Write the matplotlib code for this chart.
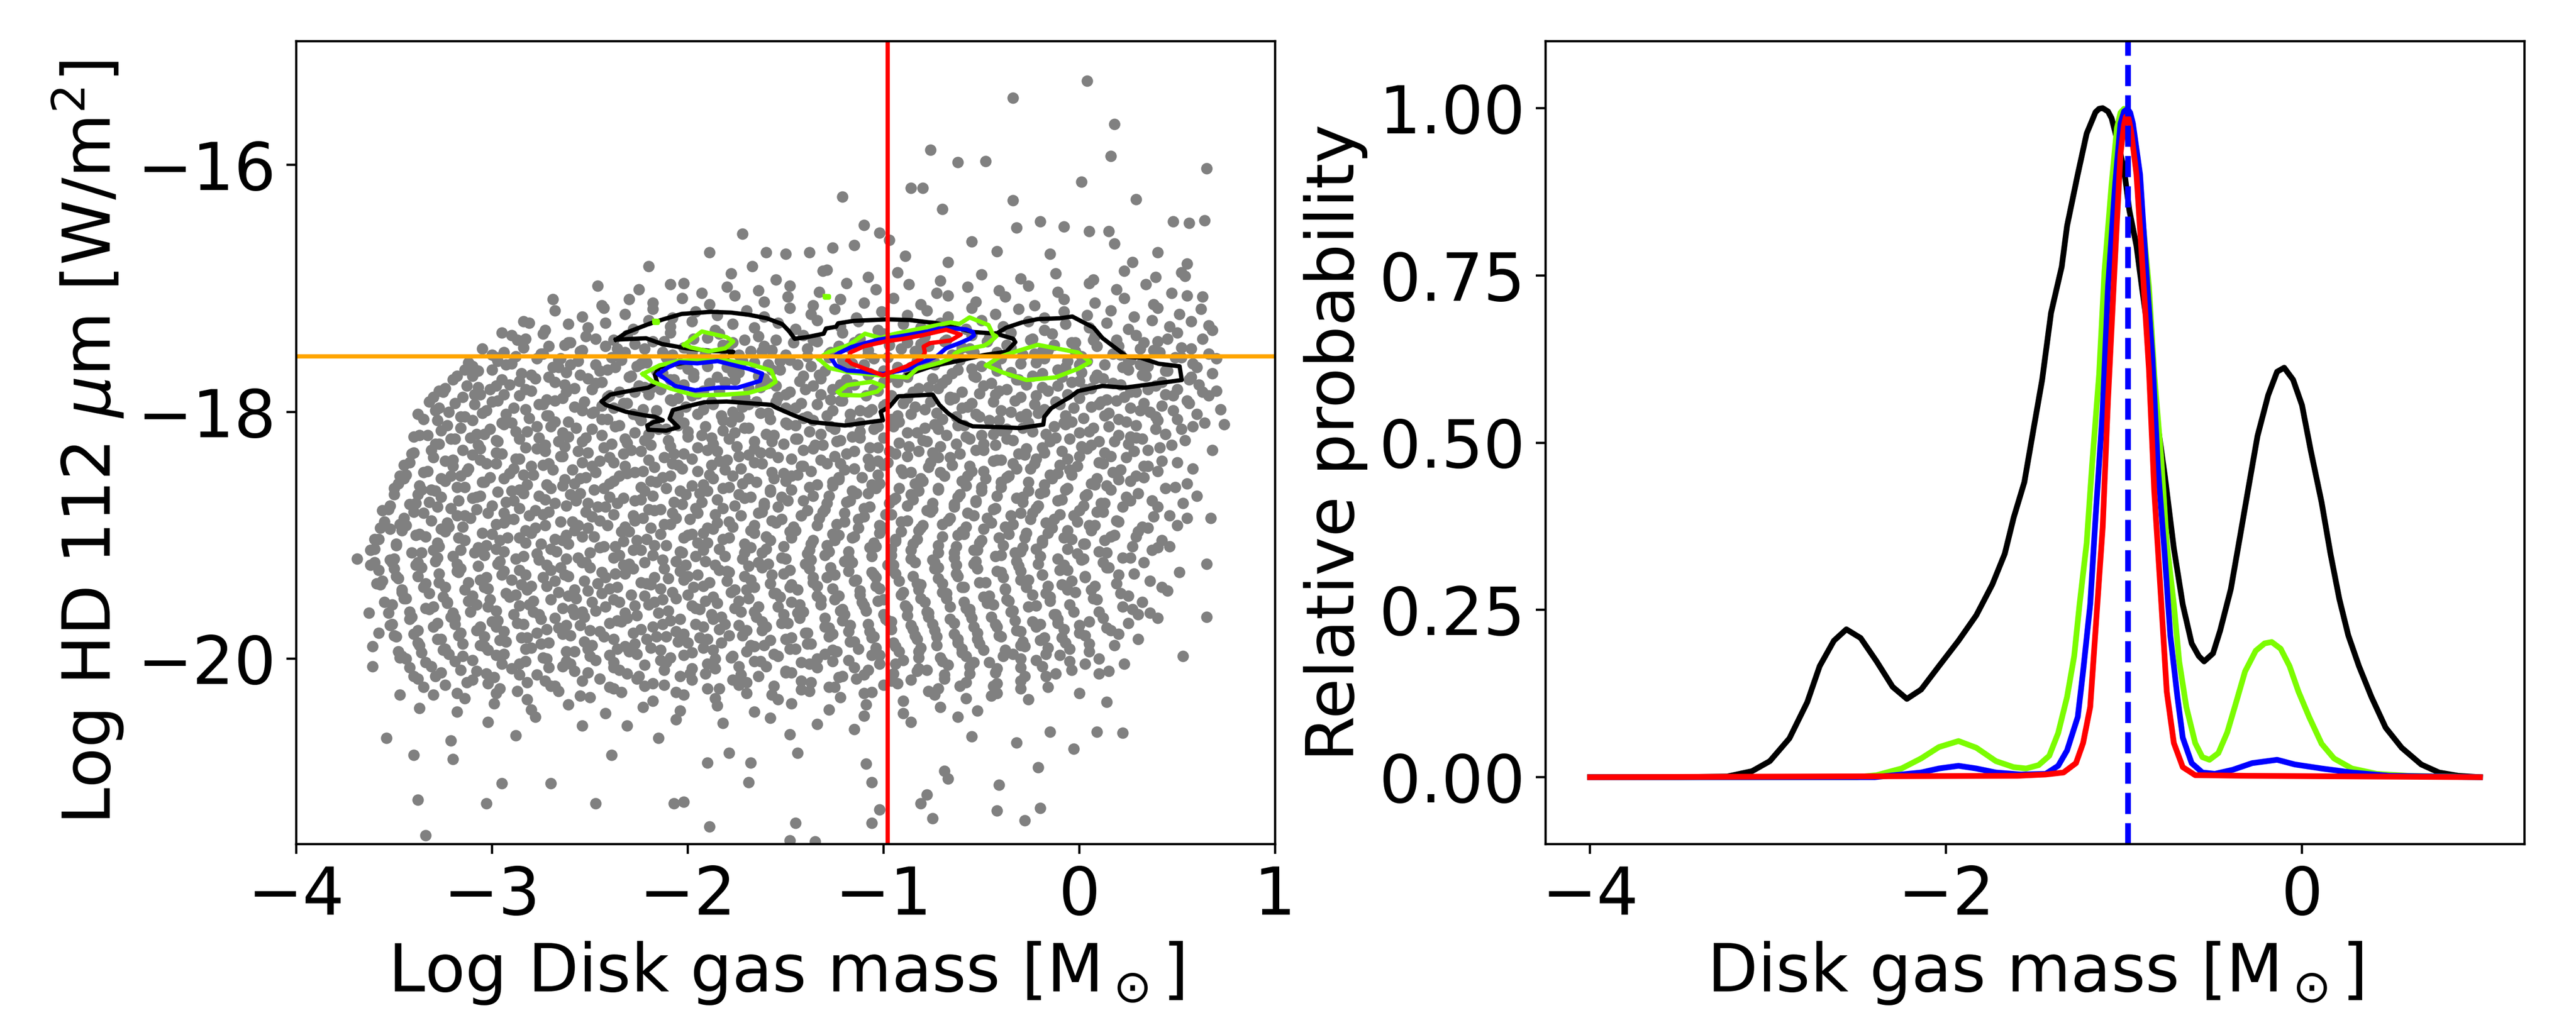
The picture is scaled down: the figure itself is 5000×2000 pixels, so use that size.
import numpy as np
import matplotlib
matplotlib.use("Agg")
import matplotlib.pyplot as plt

plt.rcParams['font.size'] = 23

# ---------------- left panel: samples ----------------
upper_pts = [
    (0.04,-15.32),(-0.34,-15.46),(0.18,-15.67),(0.16,-15.93),(0.65,-16.03),(0.01,-16.14),
    (-0.76,-15.88),(-0.62,-15.98),(-0.48,-15.97),(-0.86,-16.19),(-0.80,-16.19),(-0.34,-16.29),
    (0.29,-16.28),(-1.21,-16.26),(-0.70,-16.36),(-0.20,-16.46),(0.48,-16.46),(0.64,-16.45),
    (0.56,-16.47),(-1.02,-16.55),(-0.32,-16.51),(0.05,-16.54),(0.15,-16.54),(0.40,-16.71),
    (-0.08,-16.50),(0.18,-16.64),(0.27,-16.79),(-1.89,-16.71),(-1.72,-16.56),(-1.60,-16.71),
    (-1.50,-16.72),(-1.38,-16.71),(-1.26,-16.67),(-1.15,-16.65),(-1.10,-16.49),(-0.97,-16.61),
    (-0.89,-16.74),(-1.29,-16.85),(-1.67,-16.82),(-2.20,-16.82),(-2.02,-16.96),(-2.46,-16.98),
    (-0.55,-16.62),(-0.42,-16.70),(-0.15,-16.72),(0.55,-16.80),(-0.67,-16.79),(0.66,-17.30),
    (0.63,-17.07),(0.54,-16.90),(-2.69,-17.09),(-2.81,-17.28),(-2.90,-17.38),(-3.00,-17.54),
    (-3.14,-17.66),(-3.24,-17.81),(-3.29,-17.99),
]

cloud_top = [
    (-1.78,-16.88),(-1.55,-16.93),(-1.31,-16.86),(-1.08,-16.91),(-0.93,-16.87),(-0.71,-16.94),
    (-0.50,-16.89),(-0.30,-16.92),(-0.12,-16.88),(0.07,-16.93),(0.23,-16.86),(0.39,-16.91),(0.52,-16.87),
    (-2.25,-17.01),(-2.09,-16.97),(-1.93,-17.04),(-1.80,-16.99),(-1.64,-17.02),(-1.48,-16.98),
    (-1.33,-17.03),(-1.19,-16.96),(-1.04,-17.01),(-0.87,-16.97),(-0.73,-17.04),(-0.57,-16.99),
    (-0.41,-17.02),(-0.26,-16.98),(-0.11,-17.03),(0.05,-16.96),(0.19,-17.01),(0.34,-16.97),(0.47,-17.04),
    (-2.44,-17.14),(-2.30,-17.09),(-2.18,-17.12),(-2.03,-17.08),(-1.89,-17.13),(-1.76,-17.06),
    (-1.61,-17.11),(-1.49,-17.07),(-1.36,-17.14),(-1.22,-17.09),(-1.10,-17.12),(-0.95,-17.08),
    (-0.81,-17.13),(-0.67,-17.06),(-0.53,-17.11),(-0.38,-17.07),(-0.23,-17.14),(-0.08,-17.09),
    (0.08,-17.12),(0.23,-17.08),(0.38,-17.13),(0.55,-17.06),
    (-2.68,-17.18),(-2.54,-17.23),(-2.43,-17.16),(-2.32,-17.21),(-2.18,-17.17),(-2.08,-17.24),
    (-1.96,-17.19),(-1.85,-17.22),(-1.70,-17.18),(-1.61,-17.23),(-1.48,-17.16),(-1.37,-17.21),
    (-1.25,-17.17),(-1.14,-17.24),(-1.01,-17.19),(-0.88,-17.22),(-0.78,-17.18),(-0.67,-17.23),
    (-0.55,-17.16),(-0.43,-17.21),(-0.31,-17.17),(-0.18,-17.24),(-0.08,-17.19),(0.04,-17.22),
    (0.16,-17.18),(0.28,-17.23),(0.40,-17.16),(0.51,-17.21),(0.62,-17.17),
    (-2.84,-17.27),(-2.73,-17.34),(-2.61,-17.29),(-2.51,-17.32),(-2.42,-17.28),(-2.28,-17.33),
    (-2.20,-17.26),(-2.09,-17.31),(-1.98,-17.27),(-1.86,-17.34),(-1.77,-17.29),(-1.66,-17.32),
    (-1.54,-17.28),(-1.45,-17.33),(-1.34,-17.26),(-1.22,-17.31),(-1.13,-17.27),(-1.03,-17.34),
    (-0.90,-17.29),(-0.81,-17.32),(-0.71,-17.28),(-0.58,-17.33),(-0.50,-17.26),(-0.39,-17.31),
    (-0.26,-17.27),(-0.18,-17.34),(-0.07,-17.29),(0.05,-17.32),(0.14,-17.28),(0.25,-17.33),
    (0.37,-17.26),(0.46,-17.31),(0.57,-17.27),(0.68,-17.34),
    (-2.95,-17.36),(-2.83,-17.41),(-2.74,-17.37),(-2.61,-17.44),(-2.52,-17.39),(-2.38,-17.42),
    (-2.31,-17.38),(-2.18,-17.43),(-2.09,-17.36),(-1.97,-17.41),(-1.84,-17.37),(-1.77,-17.44),
    (-1.64,-17.39),(-1.55,-17.42),(-1.41,-17.38),(-1.34,-17.43),(-1.21,-17.36),(-1.12,-17.41),
    (-1.00,-17.37),(-0.88,-17.44),(-0.79,-17.39),(-0.68,-17.42),(-0.55,-17.38),(-0.47,-17.43),
    (-0.35,-17.36),(-0.24,-17.41),(-0.14,-17.37),(-0.04,-17.44),(0.08,-17.39),(0.19,-17.42),
    (0.29,-17.38),(0.40,-17.43),(0.50,-17.36),(0.63,-17.41),
]

cloud_mid = [
    (-3.05,-17.49),(-2.94,-17.52),(-2.84,-17.48),(-2.75,-17.53),(-2.63,-17.46),(-2.55,-17.51),
    (-2.42,-17.47),(-2.35,-17.54),(-2.22,-17.49),(-2.13,-17.52),(-2.01,-17.48),(-1.91,-17.53),
    (-1.82,-17.46),(-1.68,-17.51),(-1.61,-17.47),(-1.50,-17.54),(-1.39,-17.49),(-1.27,-17.52),
    (-1.17,-17.48),(-1.08,-17.53),(-0.97,-17.46),(-0.84,-17.51),(-0.77,-17.47),(-0.65,-17.54),
    (-0.56,-17.49),(-0.42,-17.52),(-0.35,-17.48),(-0.23,-17.53),(-0.13,-17.46),(-0.02,-17.51),
    (0.09,-17.47),(0.21,-17.54),(0.31,-17.49),(0.41,-17.52),(0.52,-17.48),(0.66,-17.53),
    (-3.10,-17.63),(-2.98,-17.56),(-2.90,-17.61),(-2.77,-17.57),(-2.66,-17.64),(-2.56,-17.59),
    (-2.47,-17.62),(-2.34,-17.58),(-2.26,-17.63),(-2.11,-17.56),(-2.04,-17.61),(-1.92,-17.57),
    (-1.80,-17.64),(-1.72,-17.59),(-1.59,-17.62),(-1.48,-17.58),(-1.37,-17.63),(-1.28,-17.56),
    (-1.16,-17.61),(-1.05,-17.57),(-0.93,-17.64),(-0.83,-17.59),(-0.74,-17.62),(-0.61,-17.58),
    (-0.50,-17.63),(-0.40,-17.56),(-0.30,-17.61),(-0.18,-17.57),(-0.07,-17.64),(0.04,-17.59),
    (0.13,-17.62),(0.25,-17.58),(0.35,-17.63),(0.49,-17.56),(0.58,-17.61),(0.70,-17.57),
    (-3.18,-17.71),(-3.07,-17.67),(-2.95,-17.74),(-2.85,-17.69),(-2.71,-17.72),(-2.62,-17.68),
    (-2.51,-17.73),(-2.41,-17.66),(-2.29,-17.71),(-2.16,-17.67),(-2.07,-17.74),(-1.97,-17.69),
    (-1.85,-17.72),(-1.74,-17.68),(-1.61,-17.73),(-1.53,-17.66),(-1.41,-17.71),(-1.30,-17.67),
    (-1.19,-17.74),(-1.07,-17.69),(-0.97,-17.72),(-0.87,-17.68),(-0.75,-17.73),(-0.62,-17.66),
    (-0.54,-17.71),(-0.42,-17.67),(-0.31,-17.74),(-0.19,-17.69),(-0.09,-17.72),(0.01,-17.68),
    (0.12,-17.73),(0.25,-17.66),(0.34,-17.71),(0.45,-17.67),(0.56,-17.74),
    (-3.25,-17.84),(-3.13,-17.79),(-3.01,-17.82),(-2.91,-17.78),(-2.80,-17.83),(-2.68,-17.76),
    (-2.58,-17.81),(-2.47,-17.77),(-2.35,-17.84),(-2.25,-17.79),(-2.14,-17.82),(-2.02,-17.78),
    (-1.92,-17.83),(-1.81,-17.76),(-1.69,-17.81),(-1.59,-17.77),(-1.48,-17.84),(-1.36,-17.79),
    (-1.26,-17.82),(-1.15,-17.78),(-1.03,-17.83),(-0.93,-17.76),(-0.82,-17.81),(-0.70,-17.77),
    (-0.60,-17.84),(-0.49,-17.79),(-0.37,-17.82),(-0.27,-17.78),(-0.16,-17.83),(-0.04,-17.76),
    (0.06,-17.81),(0.17,-17.77),(0.29,-17.84),(0.39,-17.79),(0.50,-17.82),(0.61,-17.78),(0.70,-17.83),
    (-3.30,-17.88),(-3.19,-17.93),(-3.06,-17.86),(-2.97,-17.91),(-2.86,-17.87),(-2.74,-17.94),
    (-2.64,-17.89),(-2.53,-17.92),(-2.41,-17.88),(-2.31,-17.93),(-2.20,-17.86),(-2.08,-17.91),
    (-1.98,-17.87),(-1.87,-17.94),(-1.75,-17.89),(-1.65,-17.92),(-1.54,-17.88),(-1.42,-17.93),
    (-1.32,-17.86),(-1.21,-17.91),(-1.09,-17.87),(-0.99,-17.94),(-0.88,-17.89),(-0.76,-17.92),
    (-0.66,-17.88),(-0.55,-17.93),(-0.43,-17.86),(-0.33,-17.91),(-0.22,-17.87),(-0.10,-17.94),
    (0.00,-17.89),(0.11,-17.92),(0.23,-17.88),(0.33,-17.93),(0.44,-17.86),(0.55,-17.91),(0.66,-17.87),
    (-3.27,-17.97),(-3.16,-18.04),(-3.03,-17.99),(-2.93,-18.02),(-2.83,-17.98),(-2.71,-18.03),
    (-2.58,-17.96),(-2.49,-18.01),(-2.38,-17.97),(-2.25,-18.04),(-2.16,-17.99),(-2.05,-18.02),
    (-1.92,-17.98),(-1.83,-18.03),(-1.72,-17.96),(-1.59,-18.01),(-1.50,-17.97),(-1.39,-18.04),
    (-1.26,-17.99),(-1.17,-18.02),(-1.06,-17.98),(-0.93,-18.03),(-0.84,-17.96),(-0.73,-18.01),
    (-0.60,-17.97),(-0.51,-18.04),(-0.40,-17.99),(-0.27,-18.02),(-0.18,-17.98),(-0.07,-18.03),
    (0.06,-17.96),(0.15,-18.01),(0.26,-17.97),(0.39,-18.04),(0.48,-17.99),(0.60,-18.02),(0.72,-17.98),
    (-3.35,-18.06),(-3.23,-18.11),(-3.10,-18.07),(-3.01,-18.14),(-2.90,-18.09),(-2.77,-18.12),
    (-2.68,-18.08),(-2.57,-18.13),(-2.44,-18.06),(-2.35,-18.11),(-2.24,-18.07),(-2.11,-18.14),
    (-2.02,-18.09),(-1.91,-18.12),(-1.78,-18.08),(-1.69,-18.13),(-1.58,-18.06),(-1.45,-18.11),
    (-1.36,-18.07),(-1.25,-18.14),(-1.12,-18.09),(-1.03,-18.12),(-0.92,-18.08),(-0.79,-18.13),
    (-0.70,-18.06),(-0.59,-18.11),(-0.46,-18.07),(-0.37,-18.14),(-0.26,-18.09),(-0.13,-18.12),
    (-0.04,-18.08),(0.07,-18.13),(0.20,-18.06),(0.29,-18.11),(0.40,-18.07),(0.52,-18.14),(0.64,-18.09),
    (-3.33,-18.19),(-3.21,-18.22),(-3.08,-18.18),(-2.98,-18.23),(-2.88,-18.16),(-2.76,-18.21),
    (-2.64,-18.17),(-2.54,-18.24),(-2.44,-18.19),(-2.32,-18.22),(-2.20,-18.18),(-2.10,-18.23),
    (-2.00,-18.16),(-1.88,-18.21),(-1.76,-18.17),(-1.66,-18.24),(-1.56,-18.19),(-1.44,-18.22),
    (-1.32,-18.18),(-1.22,-18.23),(-1.12,-18.16),(-1.00,-18.21),(-0.88,-18.17),(-0.78,-18.24),
    (-0.68,-18.19),(-0.56,-18.22),(-0.44,-18.18),(-0.34,-18.23),(-0.24,-18.16),(-0.12,-18.21),
    (0.00,-18.17),(0.10,-18.24),(0.20,-18.19),(0.32,-18.22),(0.44,-18.18),(0.54,-18.23),(-3.11,-18.21),
    (-3.40,-18.33),(-3.29,-18.26),(-3.15,-18.31),(-3.07,-18.27),(-2.95,-18.34),(-2.83,-18.29),
    (-2.73,-18.32),(-2.63,-18.28),(-2.51,-18.33),(-2.39,-18.26),(-2.29,-18.31),(-2.19,-18.27),
    (-2.07,-18.34),(-1.95,-18.29),(-1.85,-18.32),(-1.75,-18.28),(-1.63,-18.33),(-1.51,-18.26),
    (-1.41,-18.31),(-1.31,-18.27),(-1.19,-18.34),(-1.07,-18.29),(-0.97,-18.32),(-0.87,-18.28),
    (-0.75,-18.33),(-0.63,-18.26),(-0.53,-18.31),(-0.43,-18.27),(-0.31,-18.34),(-0.19,-18.29),
    (-0.09,-18.32),(0.01,-18.28),(0.13,-18.33),(0.25,-18.26),(0.35,-18.31),(0.47,-18.27),
    (-3.42,-18.41),(-3.30,-18.37),(-3.20,-18.44),(-3.06,-18.39),(-2.98,-18.42),(-2.86,-18.38),
    (-2.74,-18.43),(-2.64,-18.36),(-2.54,-18.41),(-2.40,-18.37),(-2.32,-18.44),(-2.20,-18.39),
    (-2.08,-18.42),(-1.98,-18.38),(-1.88,-18.43),(-1.74,-18.36),(-1.66,-18.41),(-1.54,-18.37),
    (-1.42,-18.44),(-1.32,-18.39),(-1.22,-18.42),(-1.08,-18.38),(-1.00,-18.43),(-0.88,-18.36),
    (-0.76,-18.41),(-0.66,-18.37),(-0.56,-18.44),(-0.42,-18.39),(-0.34,-18.42),(-0.22,-18.38),
    (-0.10,-18.43),(0.00,-18.36),(0.10,-18.41),(0.24,-18.37),(0.33,-18.44),
]

cloud_low = [
    (-3.45,-18.54),(-3.35,-18.49),(-3.21,-18.52),(-3.13,-18.48),(-3.01,-18.53),(-2.89,-18.46),
    (-2.79,-18.51),(-2.69,-18.47),(-2.55,-18.54),(-2.47,-18.49),(-2.35,-18.52),(-2.23,-18.48),
    (-2.13,-18.53),(-2.03,-18.46),(-1.89,-18.51),(-1.81,-18.47),(-1.69,-18.54),(-1.57,-18.49),
    (-1.47,-18.52),(-1.37,-18.48),(-1.23,-18.53),(-1.15,-18.46),(-1.03,-18.51),(-0.91,-18.47),
    (-0.81,-18.54),(-0.71,-18.49),(-0.57,-18.52),(-0.49,-18.48),(-0.37,-18.53),(-0.25,-18.46),
    (-0.15,-18.51),(-0.05,-18.47),(0.09,-18.54),(0.17,-18.49),(0.29,-18.52),(0.40,-18.48),
    (-3.48,-18.58),(-3.36,-18.63),(-3.24,-18.56),(-3.14,-18.61),(-3.04,-18.57),(-2.90,-18.64),
    (-2.82,-18.59),(-2.70,-18.62),(-2.58,-18.58),(-2.48,-18.63),(-2.38,-18.56),(-2.24,-18.61),
    (-2.16,-18.57),(-2.04,-18.64),(-1.92,-18.59),(-1.82,-18.62),(-1.72,-18.58),(-1.58,-18.63),
    (-1.50,-18.56),(-1.38,-18.61),(-1.26,-18.57),(-1.16,-18.64),(-1.06,-18.59),(-0.92,-18.62),
    (-0.84,-18.58),(-0.72,-18.63),(-0.60,-18.56),(-0.50,-18.61),(-0.40,-18.57),(-0.26,-18.64),
    (-0.18,-18.59),(-0.06,-18.62),(0.06,-18.58),(0.16,-18.63),(0.26,-18.56),(0.49,-18.61),
    (-3.50,-18.67),(-3.39,-18.74),(-3.26,-18.69),(-3.17,-18.72),(-3.06,-18.68),(-2.93,-18.73),
    (-2.84,-18.66),(-2.73,-18.71),(-2.60,-18.67),(-2.51,-18.74),(-2.40,-18.69),(-2.27,-18.72),
    (-2.18,-18.68),(-2.07,-18.73),(-1.94,-18.66),(-1.85,-18.71),(-1.74,-18.67),(-1.61,-18.74),
    (-1.52,-18.69),(-1.41,-18.72),(-1.28,-18.68),(-1.19,-18.73),(-1.08,-18.66),(-0.95,-18.71),
    (-0.86,-18.67),(-0.75,-18.74),(-0.62,-18.69),(-0.53,-18.72),(-0.42,-18.68),(-0.29,-18.73),
    (-0.20,-18.66),(-0.09,-18.71),(0.04,-18.67),(0.13,-18.74),(0.24,-18.69),(0.37,-18.72),(0.60,-18.68),
    (-3.52,-18.76),(-3.40,-18.81),(-3.28,-18.77),(-3.18,-18.84),(-3.08,-18.79),(-2.94,-18.82),
    (-2.86,-18.78),(-2.74,-18.83),(-2.62,-18.76),(-2.52,-18.81),(-2.42,-18.77),(-2.28,-18.84),
    (-2.20,-18.79),(-2.08,-18.82),(-1.96,-18.78),(-1.86,-18.83),(-1.76,-18.76),(-1.62,-18.81),
    (-1.54,-18.77),(-1.42,-18.84),(-1.30,-18.79),(-1.20,-18.82),(-1.10,-18.78),(-0.96,-18.83),
    (-0.88,-18.76),(-0.76,-18.81),(-0.64,-18.77),(-0.54,-18.84),(-0.44,-18.79),(-0.30,-18.82),
    (-0.22,-18.78),(-0.10,-18.83),(0.02,-18.76),(0.12,-18.81),(0.22,-18.77),(0.46,-18.84),
    (-3.55,-18.89),(-3.44,-18.92),(-3.31,-18.88),(-3.22,-18.93),(-3.11,-18.86),(-2.98,-18.91),
    (-2.89,-18.87),(-2.78,-18.94),(-2.65,-18.89),(-2.56,-18.92),(-2.45,-18.88),(-2.32,-18.93),
    (-2.23,-18.86),(-2.12,-18.91),(-1.99,-18.87),(-1.90,-18.94),(-1.79,-18.89),(-1.66,-18.92),
    (-1.57,-18.88),(-1.46,-18.93),(-1.33,-18.86),(-1.24,-18.91),(-1.13,-18.87),(-1.00,-18.94),
    (-0.91,-18.89),(-0.80,-18.92),(-0.67,-18.88),(-0.58,-18.93),(-0.47,-18.86),(-0.34,-18.91),
    (-0.25,-18.87),(-0.14,-18.94),(-0.01,-18.89),(0.08,-18.92),(0.19,-18.88),(0.32,-18.93),(0.55,-18.86),
    (-3.58,-19.03),(-3.46,-18.96),(-3.34,-19.01),(-3.24,-18.97),(-3.14,-19.04),(-3.00,-18.99),
    (-2.92,-19.02),(-2.80,-18.98),(-2.68,-19.03),(-2.58,-18.96),(-2.48,-19.01),(-2.34,-18.97),
    (-2.26,-19.04),(-2.14,-18.99),(-2.02,-19.02),(-1.92,-18.98),(-1.82,-19.03),(-1.68,-18.96),
    (-1.60,-19.01),(-1.48,-18.97),(-1.36,-19.04),(-1.26,-18.99),(-1.16,-19.02),(-1.02,-18.98),
    (-0.94,-19.03),(-0.82,-18.96),(-0.70,-19.01),(-0.60,-18.97),(-0.50,-19.04),(-0.36,-18.99),
    (-0.28,-19.02),(-0.16,-18.98),(-0.04,-19.03),(0.06,-18.96),(0.16,-19.01),(0.30,-18.97),(0.42,-19.04),
    (-3.60,-19.11),(-3.49,-19.07),(-3.36,-19.14),(-3.27,-19.09),(-3.16,-19.12),(-3.03,-19.08),
    (-2.94,-19.13),(-2.83,-19.06),(-2.70,-19.11),(-2.61,-19.07),(-2.50,-19.14),(-2.37,-19.09),
    (-2.28,-19.12),(-2.17,-19.08),(-2.04,-19.13),(-1.95,-19.06),(-1.84,-19.11),(-1.71,-19.07),
    (-1.62,-19.14),(-1.51,-19.09),(-1.38,-19.12),(-1.29,-19.08),(-1.18,-19.13),(-1.05,-19.06),
    (-0.96,-19.11),(-0.85,-19.07),(-0.72,-19.14),(-0.63,-19.09),(-0.52,-19.12),(-0.39,-19.08),
    (-0.30,-19.13),(-0.19,-19.06),(-0.06,-19.11),(0.03,-19.07),(0.14,-19.14),(0.27,-19.09),(0.37,-19.12),
    (-3.62,-19.24),(-3.50,-19.19),(-3.38,-19.22),(-3.28,-19.18),(-3.18,-19.23),(-3.04,-19.16),
    (-2.96,-19.21),(-2.84,-19.17),(-2.72,-19.24),(-2.62,-19.19),(-2.52,-19.22),(-2.38,-19.18),
    (-2.30,-19.23),(-2.18,-19.16),(-2.06,-19.21),(-1.96,-19.17),(-1.86,-19.24),(-1.72,-19.19),
    (-1.64,-19.22),(-1.52,-19.18),(-1.40,-19.23),(-1.30,-19.16),(-1.20,-19.21),(-1.06,-19.17),
    (-0.98,-19.24),(-0.86,-19.19),(-0.74,-19.22),(-0.64,-19.18),(-0.54,-19.23),(-0.40,-19.16),
    (-0.32,-19.21),(-0.20,-19.17),(-0.08,-19.24),(0.02,-19.19),(0.12,-19.22),(0.26,-19.18),
]

cloud_base = [
    (-3.58,-19.28),(-3.49,-19.33),(-3.36,-19.26),(-3.27,-19.31),(-3.16,-19.27),(-3.03,-19.34),
    (-2.94,-19.29),(-2.83,-19.32),(-2.70,-19.28),(-2.61,-19.33),(-2.50,-19.26),(-2.37,-19.31),
    (-2.28,-19.27),(-2.17,-19.34),(-2.04,-19.29),(-1.95,-19.32),(-1.84,-19.28),(-1.71,-19.33),
    (-1.62,-19.26),(-1.51,-19.31),(-1.38,-19.27),(-1.29,-19.34),(-1.18,-19.29),(-1.05,-19.32),
    (-0.96,-19.28),(-0.85,-19.33),(-0.72,-19.26),(-0.63,-19.31),(-0.52,-19.27),(-0.39,-19.34),
    (-0.30,-19.29),(-0.19,-19.32),(-0.06,-19.28),(0.03,-19.33),(0.14,-19.26),(0.28,-19.31),
    (-3.56,-19.37),(-3.46,-19.44),(-3.34,-19.39),(-3.24,-19.42),(-3.12,-19.38),(-3.02,-19.43),
    (-2.90,-19.36),(-2.80,-19.41),(-2.68,-19.37),(-2.58,-19.44),(-2.46,-19.39),(-2.36,-19.42),
    (-2.24,-19.38),(-2.14,-19.43),(-2.02,-19.36),(-1.92,-19.41),(-1.80,-19.37),(-1.70,-19.44),
    (-1.58,-19.39),(-1.48,-19.42),(-1.36,-19.38),(-1.26,-19.43),(-1.14,-19.36),(-1.04,-19.41),
    (-0.92,-19.37),(-0.82,-19.44),(-0.70,-19.39),(-0.60,-19.42),(-0.48,-19.38),(-0.38,-19.43),
    (-0.26,-19.36),(-0.16,-19.41),(-0.04,-19.37),(0.06,-19.44),(0.19,-19.39),(0.42,-19.42),
    (-3.51,-19.56),(-3.45,-19.51),(-3.32,-19.47),(-3.23,-19.54),(-3.10,-19.49),(-3.01,-19.52),
    (-2.88,-19.48),(-2.79,-19.53),(-2.66,-19.46),(-2.57,-19.51),(-2.44,-19.47),(-2.35,-19.54),
    (-2.22,-19.49),(-2.13,-19.52),(-2.00,-19.48),(-1.91,-19.53),(-1.78,-19.46),(-1.69,-19.51),
    (-1.56,-19.47),(-1.47,-19.54),(-1.34,-19.49),(-1.25,-19.52),(-1.12,-19.48),(-1.03,-19.53),
    (-0.90,-19.46),(-0.81,-19.51),(-0.68,-19.47),(-0.59,-19.54),(-0.46,-19.49),(-0.37,-19.52),
    (-0.24,-19.48),(-0.15,-19.53),(-0.02,-19.46),(0.07,-19.51),(0.21,-19.47),(0.32,-19.54),
    (-3.63,-19.63),(-3.42,-19.62),(-3.30,-19.58),(-3.20,-19.63),(-3.08,-19.56),(-2.98,-19.61),
    (-2.86,-19.57),(-2.76,-19.64),(-2.64,-19.59),(-2.54,-19.62),(-2.42,-19.58),(-2.32,-19.63),
    (-2.20,-19.56),(-2.10,-19.61),(-1.98,-19.57),(-1.88,-19.64),(-1.76,-19.59),(-1.66,-19.62),
    (-1.54,-19.58),(-1.44,-19.63),(-1.32,-19.56),(-1.22,-19.61),(-1.10,-19.57),(-1.00,-19.64),
    (-0.88,-19.59),(-0.78,-19.62),(-0.66,-19.58),(-0.56,-19.63),(-0.44,-19.56),(-0.34,-19.61),
    (-0.22,-19.57),(-0.12,-19.64),(0.05,-19.70),(0.10,-19.62),(0.22,-19.58),(0.36,-19.63),
    (-3.52,-19.73),(-3.41,-19.66),(-3.28,-19.71),(-3.19,-19.67),(-3.06,-19.74),(-2.97,-19.69),
    (-2.84,-19.72),(-2.75,-19.68),(-2.62,-19.73),(-2.53,-19.66),(-2.40,-19.71),(-2.31,-19.67),
    (-2.18,-19.74),(-2.09,-19.69),(-1.96,-19.72),(-1.87,-19.68),(-1.74,-19.73),(-1.65,-19.66),
    (-1.52,-19.71),(-1.43,-19.67),(-1.30,-19.74),(-1.21,-19.69),(-1.08,-19.72),(-0.99,-19.68),
    (-0.86,-19.73),(-0.77,-19.66),(-0.64,-19.71),(-0.55,-19.67),(-0.42,-19.74),(-0.33,-19.69),
    (-0.20,-19.72),(-0.11,-19.68),(0.00,-19.73),(0.25,-19.71),(0.40,-19.67),
    (-3.50,-19.81),(-3.38,-19.77),(-3.26,-19.84),(-3.16,-19.79),(-3.04,-19.82),(-2.94,-19.78),
    (-2.82,-19.83),(-2.72,-19.76),(-2.60,-19.81),(-2.50,-19.77),(-2.38,-19.84),(-2.28,-19.79),
    (-2.16,-19.82),(-2.06,-19.78),(-1.94,-19.83),(-1.84,-19.76),(-1.72,-19.81),(-1.62,-19.77),
    (-1.50,-19.84),(-1.40,-19.79),(-1.28,-19.82),(-1.18,-19.78),(-1.06,-19.83),(-0.96,-19.76),
    (-0.84,-19.81),(-0.74,-19.77),(-0.62,-19.84),(-0.52,-19.79),(-0.40,-19.82),(-0.30,-19.78),
    (-0.18,-19.83),(-0.08,-19.76),(0.03,-19.81),(0.16,-19.77),(0.30,-19.84),
    (-3.48,-19.94),(-3.37,-19.89),(-3.24,-19.92),(-3.15,-19.88),(-3.02,-19.93),(-2.93,-19.86),
    (-2.80,-19.91),(-2.71,-19.87),(-2.58,-19.94),(-2.49,-19.89),(-2.36,-19.92),(-2.27,-19.88),
    (-2.14,-19.93),(-2.05,-19.86),(-1.92,-19.91),(-1.83,-19.87),(-1.70,-19.94),(-1.61,-19.89),
    (-1.48,-19.92),(-1.39,-19.88),(-1.26,-19.93),(-1.17,-19.86),(-1.04,-19.91),(-0.95,-19.87),
    (-0.82,-19.94),(-0.73,-19.89),(-0.60,-19.92),(-0.51,-19.88),(-0.38,-19.93),(-0.29,-19.86),
    (-0.16,-19.91),(-0.07,-19.87),(0.05,-19.94),(0.18,-19.89),(0.53,-19.98),
    (-3.46,-19.98),(-3.34,-20.03),(-3.22,-19.96),(-3.10,-20.01),(-2.98,-19.97),(-2.86,-20.04),
    (-2.74,-19.99),(-2.62,-20.02),(-2.50,-19.98),(-2.38,-20.03),(-2.26,-19.96),(-2.14,-20.01),
    (-2.02,-19.97),(-1.90,-20.04),(-1.78,-19.99),(-1.66,-20.02),(-1.54,-19.98),(-1.42,-20.03),
    (-1.30,-19.96),(-1.18,-20.01),(-1.06,-19.97),(-0.94,-20.04),(-0.82,-19.99),(-0.70,-20.02),
    (-0.58,-19.98),(-0.46,-20.03),(-0.34,-19.96),(-0.22,-20.01),(-0.10,-19.97),(0.03,-20.04),
    (0.23,-20.04),
    (-3.42,-20.07),(-3.29,-20.14),(-3.16,-20.09),(-3.03,-20.12),(-2.90,-20.08),(-2.77,-20.13),
    (-2.64,-20.06),(-2.51,-20.11),(-2.38,-20.07),(-2.25,-20.14),(-2.12,-20.09),(-1.99,-20.12),
    (-1.86,-20.08),(-1.73,-20.13),(-1.60,-20.06),(-1.47,-20.11),(-1.34,-20.07),(-1.21,-20.14),
    (-1.08,-20.09),(-0.95,-20.12),(-0.82,-20.08),(-0.69,-20.13),(-0.56,-20.06),(-0.43,-20.11),
    (-0.30,-20.07),(-0.17,-20.14),(-0.04,-20.09),(0.10,-20.12),
    (-3.38,-20.16),(-3.24,-20.21),(-3.10,-20.17),(-2.96,-20.24),(-2.82,-20.19),(-2.68,-20.22),
    (-2.54,-20.18),(-2.40,-20.23),(-2.26,-20.16),(-2.12,-20.21),(-1.98,-20.17),(-1.84,-20.24),
    (-1.70,-20.19),(-1.56,-20.22),(-1.42,-20.18),(-1.28,-20.23),(-1.14,-20.16),(-1.00,-20.21),
    (-0.86,-20.17),(-0.72,-20.24),(-0.58,-20.19),(-0.44,-20.22),(-0.30,-20.18),(-0.16,-20.23),
    (-3.30,-20.29),(-3.14,-20.32),(-2.98,-20.28),(-2.82,-20.33),(-2.66,-20.26),(-2.50,-20.31),
    (-2.34,-20.27),(-2.18,-20.34),(-2.02,-20.29),(-1.86,-20.32),(-1.70,-20.28),(-1.54,-20.33),
    (-1.38,-20.26),(-1.22,-20.31),(-1.06,-20.27),(-0.90,-20.34),(-0.74,-20.29),(-0.58,-20.32),
    (-0.42,-20.28),(-0.26,-20.33),
    (-3.18,-20.43),(-2.99,-20.36),(-2.80,-20.41),(-2.61,-20.37),(-2.42,-20.44),(-2.23,-20.39),
    (-2.04,-20.42),(-1.85,-20.38),(-1.66,-20.43),(-1.47,-20.36),(-1.28,-20.41),(-1.09,-20.37),
    (-0.90,-20.44),(-0.71,-20.39),(-0.52,-20.42),
    (-3.02,-20.51),(-2.78,-20.47),(-2.54,-20.54),(-2.06,-20.49),(-1.82,-20.52),(-1.58,-20.48),
    (-1.34,-20.53),(-1.10,-20.46),(-0.86,-20.51),(-0.62,-20.47),
    (-2.88,-20.62),(-2.15,-20.64),(-1.48,-20.61),(-1.15,-20.57),(-0.55,-20.63),
]

cloud_fill_a = [
    (-2.87,-17.42),(-2.71,-17.47),(-2.60,-17.44),(-2.47,-17.41),(-2.36,-17.49),(-2.27,-17.45),(-2.12,-17.43),(-2.02,-17.48),(-1.90,-17.40),(-1.79,-17.46),(-1.71,-17.42),(-1.57,-17.50),(-1.46,-17.44),
    (-1.36,-17.42),(-1.23,-17.47),(-1.15,-17.44),(-1.02,-17.41),(-0.91,-17.49),(-0.81,-17.45),(-0.69,-17.43),(-0.60,-17.48),(-0.46,-17.40),(-0.37,-17.46),(-0.25,-17.42),(-0.16,-17.50),(-0.02,-17.44),
    (0.07,-17.42),(0.20,-17.47),(0.33,-17.44),(0.45,-17.41),(0.57,-17.49),
    (-2.97,-17.59),(-2.88,-17.55),(-2.74,-17.53),(-2.66,-17.58),(-2.54,-17.50),(-2.39,-17.56),(-2.32,-17.52),(-2.21,-17.60),(-2.08,-17.54),(-1.98,-17.52),(-1.82,-17.57),(-1.74,-17.54),(-1.62,-17.51),
    (-1.53,-17.59),(-1.39,-17.55),(-1.28,-17.53),(-1.21,-17.58),(-1.08,-17.50),(-0.98,-17.56),(-0.83,-17.52),(-0.74,-17.60),(-0.62,-17.54),(-0.54,-17.52),(-0.40,-17.57),(-0.29,-17.54),(-0.19,-17.51),
    (-0.06,-17.59),(0.01,-17.55),(0.17,-17.53),(0.26,-17.58),(0.38,-17.50),(0.52,-17.56),
    (-3.12,-17.60),(-3.00,-17.66),(-2.93,-17.62),(-2.80,-17.70),(-2.69,-17.64),(-2.60,-17.62),(-2.45,-17.67),(-2.37,-17.64),(-2.24,-17.61),(-2.13,-17.69),(-2.00,-17.65),(-1.90,-17.63),(-1.77,-17.68),
    (-1.66,-17.60),(-1.57,-17.66),(-1.44,-17.62),(-1.33,-17.70),(-1.19,-17.64),(-1.10,-17.62),(-1.00,-17.67),(-0.86,-17.64),(-0.78,-17.61),(-0.65,-17.69),(-0.55,-17.65),(-0.43,-17.63),(-0.35,-17.68),
    (-0.22,-17.60),(-0.11,-17.66),(0.00,-17.62),(0.09,-17.70),(0.22,-17.64),(0.31,-17.62),(0.44,-17.67),(0.60,-17.64),
    (-3.20,-17.74),(-3.10,-17.71),(-2.98,-17.79),(-2.86,-17.75),(-2.78,-17.73),(-2.63,-17.78),(-2.55,-17.70),(-2.44,-17.76),(-2.30,-17.72),(-2.22,-17.80),(-2.09,-17.74),(-1.97,-17.72),(-1.89,-17.77),
    (-1.76,-17.74),(-1.64,-17.71),(-1.55,-17.79),(-1.43,-17.75),(-1.32,-17.73),(-1.22,-17.78),(-1.08,-17.70),(-1.00,-17.76),(-0.88,-17.72),(-0.77,-17.80),(-0.68,-17.74),(-0.53,-17.72),(-0.45,-17.77),
    (-0.32,-17.74),(-0.24,-17.71),(-0.11,-17.79),(0.00,-17.75),(0.08,-17.73),(0.21,-17.78),(0.32,-17.70),(0.42,-17.76),(0.57,-17.72),
    (-3.27,-17.83),(-3.15,-17.88),(-3.07,-17.80),(-2.94,-17.86),(-2.83,-17.82),(-2.72,-17.90),(-2.62,-17.84),(-2.49,-17.82),(-2.40,-17.87),(-2.27,-17.84),(-2.19,-17.81),(-2.05,-17.89),(-1.95,-17.85),
    (-1.84,-17.83),(-1.71,-17.88),(-1.63,-17.80),(-1.50,-17.86),(-1.40,-17.82),(-1.27,-17.90),(-1.19,-17.84),(-1.05,-17.82),(-0.96,-17.87),(-0.85,-17.84),(-0.72,-17.81),(-0.64,-17.89),(-0.51,-17.85),
    (-0.41,-17.83),(-0.30,-17.88),(-0.19,-17.80),(-0.06,-17.86),(0.03,-17.82),(0.14,-17.90),(0.26,-17.84),(0.35,-17.82),(0.48,-17.87),(0.63,-17.84),
    (-3.32,-17.92),(-3.22,-18.00),(-3.09,-17.94),(-3.00,-17.92),(-2.89,-17.97),(-2.76,-17.94),(-2.68,-17.91),(-2.54,-17.99),(-2.44,-17.95),(-2.33,-17.93),(-2.23,-17.98),(-2.09,-17.90),(-2.01,-17.96),
    (-1.88,-17.92),(-1.77,-18.00),(-1.69,-17.94),(-1.55,-17.92),(-1.45,-17.97),(-1.34,-17.94),(-1.22,-17.91),(-1.12,-17.99),(-1.00,-17.95),(-0.90,-17.93),(-0.79,-17.98),(-0.66,-17.90),(-0.57,-17.96),
    (-0.44,-17.92),(-0.35,-18.00),(-0.23,-17.94),(-0.12,-17.92),(-0.03,-17.97),(0.10,-17.94),(0.19,-17.91),(0.31,-17.99),(0.42,-17.95),(0.56,-17.93),
    (-3.38,-18.02),(-3.28,-18.07),(-3.14,-18.04),(-3.05,-18.01),(-2.95,-18.09),(-2.81,-18.05),(-2.72,-18.03),(-2.61,-18.08),(-2.48,-18.00),(-2.41,-18.06),(-2.28,-18.02),(-2.17,-18.10),(-2.07,-18.04),
    (-1.95,-18.02),(-1.82,-18.07),(-1.74,-18.04),(-1.63,-18.01),(-1.50,-18.09),(-1.41,-18.05),(-1.29,-18.03),(-1.17,-18.08),(-1.08,-18.00),(-0.96,-18.06),(-0.86,-18.02),(-0.74,-18.10),(-0.63,-18.04),
    (-0.53,-18.02),(-0.41,-18.07),(-0.30,-18.04),(-0.21,-18.01),(-0.08,-18.09),(0.02,-18.05),(0.13,-18.03),(0.24,-18.08),(0.36,-18.00),(0.50,-18.06),
    (-3.37,-18.19),(-3.26,-18.15),(-3.16,-18.13),(-3.04,-18.18),(-2.94,-18.10),(-2.82,-18.16),(-2.70,-18.12),(-2.61,-18.20),(-2.49,-18.14),(-2.37,-18.12),(-2.27,-18.17),(-2.15,-18.14),(-2.05,-18.11),
    (-1.93,-18.19),(-1.82,-18.15),(-1.71,-18.13),(-1.60,-18.18),(-1.49,-18.10),(-1.38,-18.16),(-1.27,-18.12),(-1.16,-18.20),(-1.05,-18.14),(-0.95,-18.12),(-0.83,-18.17),(-0.72,-18.14),(-0.62,-18.11),
    (-0.50,-18.19),(-0.40,-18.15),(-0.29,-18.13),(-0.17,-18.18),(-0.07,-18.10),(0.05,-18.16),(0.15,-18.12),(0.26,-18.20),(0.39,-18.14),(0.58,-18.12),
    (-3.40,-18.20),(-3.27,-18.26),(-3.19,-18.22),(-3.06,-18.30),(-2.97,-18.24),(-2.86,-18.22),(-2.73,-18.27),(-2.66,-18.24),(-2.52,-18.21),(-2.43,-18.29),(-2.31,-18.25),(-2.22,-18.23),(-2.09,-18.28),
    (-2.00,-18.20),(-1.87,-18.26),(-1.79,-18.22),(-1.66,-18.30),(-1.57,-18.24),(-1.45,-18.22),(-1.35,-18.27),(-1.24,-18.24),(-1.12,-18.21),(-1.03,-18.29),(-0.92,-18.25),(-0.80,-18.23),(-0.71,-18.28),
    (-0.58,-18.20),(-0.49,-18.26),(-0.37,-18.22),(-0.27,-18.30),(-0.15,-18.24),(-0.05,-18.22),(0.06,-18.27),(0.18,-18.24),(0.29,-18.21),(0.41,-18.29),
    (-3.41,-18.34),(-3.31,-18.31),(-3.20,-18.39),(-3.10,-18.35),(-2.98,-18.33),(-2.88,-18.38),(-2.77,-18.30),(-2.65,-18.36),(-2.56,-18.32),(-2.45,-18.40),(-2.33,-18.34),(-2.24,-18.32),(-2.12,-18.37),
    (-2.02,-18.34),(-1.90,-18.31),(-1.80,-18.39),(-1.69,-18.35),(-1.58,-18.33),(-1.47,-18.38),(-1.36,-18.30),(-1.25,-18.36),(-1.15,-18.32),(-1.03,-18.40),(-0.94,-18.34),(-0.82,-18.32),(-0.72,-18.37),
    (-0.61,-18.34),(-0.49,-18.31),(-0.40,-18.39),(-0.28,-18.35),(-0.18,-18.33),(-0.06,-18.38),(0.04,-18.30),(0.16,-18.36),(0.28,-18.32),(0.42,-18.40),
    (-3.45,-18.43),(-3.33,-18.48),(-3.24,-18.40),(-3.12,-18.46),(-3.03,-18.42),(-2.91,-18.50),(-2.80,-18.44),(-2.71,-18.42),(-2.59,-18.47),(-2.49,-18.44),(-2.38,-18.41),(-2.27,-18.49),(-2.17,-18.45),
    (-2.05,-18.43),(-1.95,-18.48),(-1.84,-18.40),(-1.73,-18.46),(-1.62,-18.42),(-1.51,-18.50),(-1.41,-18.44),(-1.29,-18.42),(-1.20,-18.47),(-1.07,-18.44),(-0.98,-18.41),(-0.86,-18.49),(-0.77,-18.45),
    (-0.65,-18.43),(-0.55,-18.48),(-0.44,-18.40),(-0.32,-18.46),(-0.23,-18.42),(-0.11,-18.50),(-0.01,-18.44),(0.12,-18.42),(0.21,-18.47),(0.35,-18.44),(0.50,-18.41),
    (-3.47,-18.52),(-3.37,-18.60),(-3.26,-18.54),(-3.16,-18.52),(-3.05,-18.57),(-2.94,-18.54),(-2.84,-18.51),(-2.72,-18.59),(-2.63,-18.55),(-2.52,-18.53),(-2.40,-18.58),(-2.31,-18.50),(-2.19,-18.56),
    (-2.09,-18.52),(-1.98,-18.60),(-1.87,-18.54),(-1.77,-18.52),(-1.65,-18.57),(-1.56,-18.54),(-1.44,-18.51),(-1.34,-18.59),(-1.23,-18.55),(-1.11,-18.53),(-1.02,-18.58),(-0.90,-18.50),(-0.80,-18.56),
    (-0.69,-18.52),(-0.58,-18.60),(-0.48,-18.54),(-0.36,-18.52),(-0.26,-18.57),(-0.14,-18.54),(-0.04,-18.51),(0.08,-18.59),(0.20,-18.55),(0.33,-18.53),(0.55,-18.58),
    (-3.50,-18.62),(-3.38,-18.67),(-3.29,-18.64),(-3.18,-18.61),(-3.08,-18.69),(-2.97,-18.65),(-2.86,-18.63),(-2.76,-18.68),(-2.64,-18.60),(-2.55,-18.66),(-2.43,-18.62),(-2.33,-18.70),(-2.22,-18.64),
    (-2.11,-18.62),(-2.01,-18.67),(-1.90,-18.64),(-1.79,-18.61),(-1.68,-18.69),(-1.58,-18.65),(-1.47,-18.63),(-1.36,-18.68),(-1.26,-18.60),(-1.14,-18.66),(-1.04,-18.62),(-0.94,-18.70),(-0.82,-18.64),
    (-0.72,-18.62),(-0.61,-18.67),(-0.50,-18.64),(-0.40,-18.61),(-0.29,-18.69),(-0.18,-18.65),(-0.07,-18.63),(0.03,-18.68),(0.14,-18.60),(0.30,-18.66),(0.44,-18.62),
    (-3.53,-18.79),(-3.42,-18.75),(-3.32,-18.73),(-3.21,-18.78),(-3.10,-18.70),(-3.00,-18.76),(-2.89,-18.72),(-2.78,-18.80),(-2.68,-18.74),(-2.57,-18.72),(-2.46,-18.77),(-2.36,-18.74),(-2.24,-18.71),
    (-2.14,-18.79),(-2.03,-18.75),(-1.93,-18.73),(-1.82,-18.78),(-1.71,-18.70),(-1.61,-18.76),(-1.49,-18.72),(-1.39,-18.80),(-1.29,-18.74),(-1.17,-18.72),(-1.07,-18.77),(-0.97,-18.74),(-0.85,-18.71),
    (-0.75,-18.79),(-0.64,-18.75),(-0.53,-18.73),(-0.43,-18.78),(-0.32,-18.70),(-0.21,-18.76),(-0.11,-18.72),(0.00,-18.80),(0.11,-18.74),(0.26,-18.72),(0.40,-18.77),(0.53,-18.74),
    (-3.56,-18.80),(-3.45,-18.86),(-3.35,-18.82),(-3.23,-18.90),(-3.14,-18.84),(-3.02,-18.82),(-2.92,-18.87),(-2.81,-18.84),(-2.71,-18.81),(-2.59,-18.89),(-2.49,-18.85),(-2.38,-18.83),(-2.27,-18.88),
    (-2.17,-18.80),(-2.06,-18.86),(-1.95,-18.82),(-1.85,-18.90),(-1.73,-18.84),(-1.64,-18.82),(-1.52,-18.87),(-1.42,-18.84),(-1.31,-18.81),(-1.20,-18.89),(-1.10,-18.85),(-0.99,-18.83),(-0.88,-18.88),
    (-0.78,-18.80),(-0.66,-18.86),(-0.57,-18.82),(-0.45,-18.90),(-0.35,-18.84),(-0.24,-18.82),(-0.13,-18.87),(-0.03,-18.84),(0.09,-18.81),(0.20,-18.89),(0.38,-18.85),
]

cloud_fill_b = [
    (-3.57,-18.94),(-3.47,-18.91),(-3.37,-18.99),(-3.26,-18.95),(-3.15,-18.93),(-3.05,-18.98),(-2.94,-18.90),(-2.83,-18.96),(-2.73,-18.92),(-2.62,-19.00),(-2.51,-18.94),(-2.41,-18.92),(-2.30,-18.97),
    (-2.19,-18.94),(-2.09,-18.91),(-1.98,-18.99),(-1.87,-18.95),(-1.77,-18.93),(-1.66,-18.98),(-1.55,-18.90),(-1.45,-18.96),(-1.34,-18.92),(-1.23,-19.00),(-1.13,-18.94),(-1.02,-18.92),(-0.91,-18.97),
    (-0.81,-18.94),(-0.70,-18.91),(-0.59,-18.99),(-0.49,-18.95),(-0.38,-18.93),(-0.27,-18.98),(-0.17,-18.90),(-0.06,-18.96),(0.05,-18.92),(0.18,-19.00),(0.35,-18.94),(0.50,-18.92),
    (-3.60,-19.03),(-3.49,-19.08),(-3.39,-19.00),(-3.28,-19.06),(-3.17,-19.02),(-3.07,-19.10),(-2.96,-19.04),(-2.86,-19.02),(-2.75,-19.07),(-2.64,-19.04),(-2.54,-19.01),(-2.43,-19.09),(-2.33,-19.05),
    (-2.21,-19.03),(-2.11,-19.08),(-2.00,-19.00),(-1.90,-19.06),(-1.79,-19.02),(-1.68,-19.10),(-1.58,-19.04),(-1.47,-19.02),(-1.37,-19.07),(-1.25,-19.04),(-1.15,-19.01),(-1.04,-19.09),(-0.94,-19.05),
    (-0.83,-19.03),(-0.72,-19.08),(-0.62,-19.00),(-0.51,-19.06),(-0.41,-19.02),(-0.29,-19.10),(-0.19,-19.04),(-0.08,-19.02),(0.02,-19.07),(0.13,-19.04),(0.29,-19.01),(0.46,-19.09),
    (-3.62,-19.12),(-3.52,-19.20),(-3.41,-19.14),(-3.30,-19.12),(-3.20,-19.17),(-3.09,-19.14),(-2.98,-19.11),(-2.88,-19.19),(-2.77,-19.15),(-2.67,-19.13),(-2.56,-19.18),(-2.45,-19.10),(-2.35,-19.16),
    (-2.24,-19.12),(-2.13,-19.20),(-2.03,-19.14),(-1.92,-19.12),(-1.81,-19.17),(-1.71,-19.14),(-1.60,-19.11),(-1.50,-19.19),(-1.39,-19.15),(-1.28,-19.13),(-1.18,-19.18),(-1.07,-19.10),(-0.96,-19.16),
    (-0.86,-19.12),(-0.75,-19.20),(-0.64,-19.14),(-0.54,-19.12),(-0.43,-19.17),(-0.33,-19.14),(-0.22,-19.11),(-0.11,-19.19),(-0.01,-19.15),(0.10,-19.13),(0.22,-19.18),(0.40,-19.10),
    (-3.60,-19.22),(-3.50,-19.27),(-3.39,-19.24),(-3.29,-19.21),(-3.18,-19.29),(-3.07,-19.25),(-2.97,-19.23),(-2.86,-19.28),(-2.76,-19.20),(-2.65,-19.26),(-2.54,-19.22),(-2.44,-19.30),(-2.33,-19.24),
    (-2.22,-19.22),(-2.12,-19.27),(-2.01,-19.24),(-1.91,-19.21),(-1.80,-19.29),(-1.69,-19.25),(-1.59,-19.23),(-1.48,-19.28),(-1.37,-19.20),(-1.27,-19.26),(-1.16,-19.22),(-1.06,-19.30),(-0.95,-19.24),
    (-0.84,-19.22),(-0.74,-19.27),(-0.63,-19.24),(-0.53,-19.21),(-0.42,-19.29),(-0.31,-19.25),(-0.21,-19.23),(-0.10,-19.28),(0.01,-19.20),(0.15,-19.26),(0.33,-19.22),
    (-3.59,-19.39),(-3.48,-19.35),(-3.38,-19.33),(-3.27,-19.38),(-3.17,-19.30),(-3.06,-19.36),(-2.95,-19.32),(-2.85,-19.40),(-2.74,-19.34),(-2.63,-19.32),(-2.53,-19.37),(-2.42,-19.34),(-2.32,-19.31),
    (-2.21,-19.39),(-2.10,-19.35),(-2.00,-19.33),(-1.89,-19.38),(-1.79,-19.30),(-1.68,-19.36),(-1.57,-19.32),(-1.47,-19.40),(-1.36,-19.34),(-1.25,-19.32),(-1.15,-19.37),(-1.04,-19.34),(-0.94,-19.31),
    (-0.83,-19.39),(-0.72,-19.35),(-0.62,-19.33),(-0.51,-19.38),(-0.40,-19.30),(-0.30,-19.36),(-0.19,-19.32),(-0.09,-19.40),(0.03,-19.34),(0.20,-19.32),(0.36,-19.37),
    (-3.57,-19.40),(-3.46,-19.46),(-3.35,-19.42),(-3.25,-19.50),(-3.14,-19.44),(-3.04,-19.42),(-2.93,-19.47),(-2.82,-19.44),(-2.72,-19.41),(-2.61,-19.49),(-2.51,-19.45),(-2.40,-19.43),(-2.29,-19.48),
    (-2.19,-19.40),(-2.08,-19.46),(-1.97,-19.42),(-1.87,-19.50),(-1.76,-19.44),(-1.66,-19.42),(-1.55,-19.47),(-1.44,-19.44),(-1.34,-19.41),(-1.23,-19.49),(-1.12,-19.45),(-1.02,-19.43),(-0.91,-19.48),
    (-0.81,-19.40),(-0.70,-19.46),(-0.59,-19.42),(-0.49,-19.50),(-0.38,-19.44),(-0.27,-19.42),(-0.17,-19.47),(-0.06,-19.44),(0.08,-19.41),(0.25,-19.49),(0.45,-19.45),
    (-3.55,-19.54),(-3.44,-19.51),(-3.34,-19.59),(-3.23,-19.55),(-3.12,-19.53),(-3.02,-19.58),(-2.91,-19.50),(-2.81,-19.56),(-2.70,-19.52),(-2.59,-19.60),(-2.49,-19.54),(-2.38,-19.52),(-2.27,-19.57),
    (-2.17,-19.54),(-2.06,-19.51),(-1.96,-19.59),(-1.85,-19.55),(-1.74,-19.53),(-1.64,-19.58),(-1.53,-19.50),(-1.43,-19.56),(-1.32,-19.52),(-1.21,-19.60),(-1.11,-19.54),(-1.00,-19.52),(-0.89,-19.57),
    (-0.79,-19.54),(-0.68,-19.51),(-0.58,-19.59),(-0.47,-19.55),(-0.36,-19.53),(-0.26,-19.58),(-0.15,-19.50),(-0.05,-19.56),(0.09,-19.52),(0.27,-19.60),
    (-3.53,-19.63),(-3.42,-19.68),(-3.32,-19.60),(-3.21,-19.66),(-3.11,-19.62),(-3.00,-19.70),(-2.89,-19.64),(-2.79,-19.62),(-2.68,-19.67),(-2.58,-19.64),(-2.47,-19.61),(-2.36,-19.69),(-2.26,-19.65),
    (-2.15,-19.63),(-2.04,-19.68),(-1.94,-19.60),(-1.83,-19.66),(-1.73,-19.62),(-1.62,-19.70),(-1.51,-19.64),(-1.41,-19.62),(-1.30,-19.67),(-1.20,-19.64),(-1.09,-19.61),(-0.98,-19.69),(-0.88,-19.65),
    (-0.77,-19.63),(-0.66,-19.68),(-0.56,-19.60),(-0.45,-19.66),(-0.35,-19.62),(-0.24,-19.70),(-0.13,-19.64),(-0.03,-19.62),(0.12,-19.67),(0.30,-19.64),
    (-3.51,-19.72),(-3.40,-19.80),(-3.30,-19.74),(-3.19,-19.72),(-3.08,-19.77),(-2.98,-19.74),(-2.87,-19.71),(-2.77,-19.79),(-2.66,-19.75),(-2.55,-19.73),(-2.45,-19.78),(-2.34,-19.70),(-2.24,-19.76),
    (-2.13,-19.72),(-2.02,-19.80),(-1.92,-19.74),(-1.81,-19.72),(-1.70,-19.77),(-1.60,-19.74),(-1.49,-19.71),(-1.39,-19.79),(-1.28,-19.75),(-1.17,-19.73),(-1.07,-19.78),(-0.96,-19.70),(-0.85,-19.76),
    (-0.75,-19.72),(-0.64,-19.80),(-0.54,-19.74),(-0.43,-19.72),(-0.32,-19.77),(-0.22,-19.74),(-0.11,-19.71),(0.00,-19.79),(0.14,-19.75),
    (-3.49,-19.82),(-3.38,-19.87),(-3.28,-19.84),(-3.17,-19.81),(-3.06,-19.89),(-2.96,-19.85),(-2.85,-19.83),(-2.75,-19.88),(-2.64,-19.80),(-2.53,-19.86),(-2.43,-19.82),(-2.32,-19.90),(-2.21,-19.84),
    (-2.11,-19.82),(-2.00,-19.87),(-1.90,-19.84),(-1.79,-19.81),(-1.68,-19.89),(-1.58,-19.85),(-1.47,-19.83),(-1.37,-19.88),(-1.26,-19.80),(-1.15,-19.86),(-1.05,-19.82),(-0.94,-19.90),(-0.83,-19.84),
    (-0.73,-19.82),(-0.62,-19.87),(-0.52,-19.84),(-0.41,-19.81),(-0.30,-19.89),(-0.20,-19.85),(-0.09,-19.83),(0.05,-19.88),(0.20,-19.80),
    (-3.47,-19.99),(-3.36,-19.95),(-3.25,-19.93),(-3.15,-19.98),(-3.04,-19.90),(-2.94,-19.96),(-2.83,-19.92),(-2.72,-20.00),(-2.62,-19.94),(-2.51,-19.92),(-2.40,-19.97),(-2.30,-19.94),(-2.19,-19.91),
    (-2.09,-19.99),(-1.98,-19.95),(-1.87,-19.93),(-1.77,-19.98),(-1.66,-19.90),(-1.56,-19.96),(-1.45,-19.92),(-1.34,-20.00),(-1.24,-19.94),(-1.13,-19.92),(-1.02,-19.97),(-0.92,-19.94),(-0.81,-19.91),
    (-0.71,-19.99),(-0.60,-19.95),(-0.49,-19.93),(-0.39,-19.98),(-0.28,-19.90),(-0.17,-19.96),(-0.05,-19.92),(0.10,-20.00),
    (-3.44,-20.00),(-3.31,-20.06),(-3.19,-20.02),(-3.08,-20.10),(-2.95,-20.04),(-2.83,-20.02),(-2.71,-20.07),(-2.60,-20.04),(-2.47,-20.01),(-2.35,-20.09),(-2.22,-20.05),(-2.11,-20.03),(-1.98,-20.08),
    (-1.86,-20.00),(-1.74,-20.06),(-1.63,-20.02),(-1.50,-20.10),(-1.38,-20.04),(-1.26,-20.02),(-1.15,-20.07),(-1.02,-20.04),(-0.90,-20.01),(-0.78,-20.09),(-0.67,-20.05),(-0.54,-20.03),(-0.42,-20.08),
    (-0.30,-20.00),(-0.19,-20.06),(-0.05,-20.02),(0.15,-20.10),
    (-3.40,-20.14),(-3.26,-20.11),(-3.13,-20.19),(-2.99,-20.15),(-2.86,-20.13),(-2.73,-20.18),(-2.58,-20.10),(-2.45,-20.16),(-2.31,-20.12),(-2.18,-20.20),(-2.04,-20.14),(-1.91,-20.12),(-1.77,-20.17),
    (-1.64,-20.14),(-1.50,-20.11),(-1.37,-20.19),(-1.23,-20.15),(-1.10,-20.13),(-0.96,-20.18),(-0.83,-20.10),(-0.69,-20.16),(-0.56,-20.12),(-0.42,-20.20),(-0.28,-20.14),(-0.12,-20.12),
    (-3.35,-20.23),(-3.18,-20.28),(-3.02,-20.20),(-2.87,-20.26),(-2.70,-20.22),(-2.55,-20.30),(-2.38,-20.24),(-2.22,-20.22),(-2.06,-20.27),(-1.90,-20.24),(-1.74,-20.21),(-1.57,-20.29),(-1.42,-20.25),
    (-1.25,-20.23),(-1.10,-20.28),(-0.93,-20.20),(-0.77,-20.26),(-0.61,-20.22),(-0.45,-20.30),(-0.30,-20.24),
]

edge_pts = [
    (0.68,-17.69),(0.74,-18.10),(0.68,-18.31),(0.58,-18.46),(0.67,-18.86),(0.51,-19.30),
    (0.65,-19.23),(0.65,-19.66),(0.00,-20.28),(0.14,-20.35),(0.09,-20.59),(0.22,-20.60),
    (-0.21,-20.88),(-0.15,-20.59),(-0.32,-20.68),(-0.03,-20.73),(-0.41,-21.02),(-0.42,-21.23),
    (-0.28,-21.31),(-0.20,-21.21),(-0.69,-20.91),(-0.67,-20.97),(-0.78,-21.10),(-0.81,-21.17),
    (-1.02,-21.22),(-1.06,-21.00),(-1.06,-21.33),(-0.75,-21.29),(-1.09,-20.85),(-1.44,-20.76),
    (-1.45,-21.33),(-1.48,-21.47),(-1.35,-21.48),(-1.69,-21.00),(-1.68,-20.84),(-1.89,-21.36),
    (-2.02,-21.16),(-2.07,-21.17),(-1.90,-20.84),(-1.79,-20.76),(-2.39,-20.78),(-2.31,-20.54),
    (-2.47,-21.17),(-2.70,-21.01),(-2.95,-21.01),(-3.03,-21.17),(-3.20,-20.81),(-3.21,-20.66),
    (-3.38,-21.14),(-3.34,-21.43),(-3.40,-20.78),(-3.54,-20.64),(-3.37,-20.40),(-3.47,-20.29),
    (-3.61,-20.06),(-3.61,-19.90),(-3.58,-19.79),(-3.69,-19.19),(-3.51,-19.22),(-3.44,-18.51),
    (-3.31,-18.63),(-3.52,-18.95),(-3.09,-17.86),(-2.65,-17.57),
]

# ---------------- left panel: credible-region contours ----------------
black_outline = [
    (-2.367,-17.416),(-2.316,-17.361),(-2.259,-17.326),(-2.190,-17.284),(-2.122,-17.250),
    (-2.031,-17.208),(-1.882,-17.191),(-1.779,-17.197),(-1.688,-17.215),(-1.597,-17.243),
    (-1.517,-17.291),(-1.483,-17.347),(-1.454,-17.409),(-1.392,-17.396),(-1.306,-17.368),
    (-1.294,-17.326),(-1.243,-17.312),(-1.232,-17.284),(-1.152,-17.264),(-0.981,-17.252),
    (-0.867,-17.257),(-0.775,-17.275),(-0.738,-17.280),(-0.669,-17.305),(-0.544,-17.354),
    (-0.424,-17.368),(-0.373,-17.319),(-0.293,-17.277),(-0.213,-17.250),(-0.099,-17.243),
    (-0.036,-17.229),(0.073,-17.319),(0.118,-17.403),(0.175,-17.472),(0.244,-17.555),
    (0.312,-17.562),(0.404,-17.611),(0.512,-17.632),(0.523,-17.743),(0.426,-17.764),
    (0.232,-17.805),(0.118,-17.791),(-0.007,-17.833),(-0.042,-17.875),(-0.144,-17.972),
    (-0.179,-18.041),(-0.184,-18.104),(-0.304,-18.132),(-0.395,-18.125),(-0.544,-18.118),
    (-0.612,-18.076),(-0.669,-18.014),(-0.715,-17.944),(-0.749,-17.861),(-0.829,-17.868),
    (-0.924,-17.875),(-0.969,-17.958),(-1.015,-18.000),(-1.003,-18.069),(-1.197,-18.111),
    (-1.369,-18.083),(-1.460,-18.028),(-1.551,-17.965),(-1.574,-17.944),(-1.802,-17.917),
    (-1.916,-17.923),(-2.008,-17.958),(-2.076,-17.986),(-2.093,-18.055),(-2.048,-18.125),
    (-2.110,-18.153),(-2.202,-18.146),(-2.207,-18.111),(-2.173,-18.083),(-2.128,-18.069),
    (-2.168,-18.041),(-2.225,-18.028),(-2.316,-18.000),(-2.419,-17.944),(-2.441,-17.916),
    (-2.396,-17.861),(-2.304,-17.833),(-2.202,-17.805),(-2.156,-17.764),(-2.168,-17.701),
    (-2.145,-17.639),(-1.973,-17.590),(-1.802,-17.569),(-1.768,-17.514),(-1.871,-17.509),
    (-2.008,-17.486),(-2.133,-17.451),(-2.213,-17.405),(-2.367,-17.416),
]
black_notch = [
    (-0.424,-17.368),(-0.338,-17.409),(-0.327,-17.437),(-0.373,-17.514),(-0.487,-17.541),
    (-0.624,-17.590),(-0.750,-17.630),(-0.880,-17.700),
]
green_loops = [
    [(-2.019,-17.458),(-1.928,-17.350),(-1.802,-17.396),(-1.768,-17.430),(-1.808,-17.486),
     (-1.894,-17.511),(-1.985,-17.479)],
    [(-2.230,-17.694),(-2.145,-17.625),(-2.053,-17.590),(-1.848,-17.576),(-1.688,-17.611),
     (-1.574,-17.666),(-1.551,-17.757),(-1.597,-17.805),(-1.688,-17.847),(-1.802,-17.861),
     (-1.962,-17.868),(-2.088,-17.812),(-2.179,-17.757)],
    [(-1.334,-17.569),(-1.277,-17.514),(-1.175,-17.458),(-1.095,-17.368),(-1.015,-17.403),
     (-0.958,-17.375),(-0.832,-17.333),(-0.658,-17.277),(-0.612,-17.289),(-0.561,-17.236),
     (-0.464,-17.298),(-0.441,-17.375),(-0.424,-17.389),(-0.464,-17.444),(-0.487,-17.465),
     (-0.601,-17.500),(-0.635,-17.528),(-0.658,-17.569),(-0.715,-17.604),(-0.829,-17.652),
     (-0.878,-17.722),(-1.003,-17.708),(-1.175,-17.680),(-1.277,-17.646)],
    [(-1.232,-17.840),(-1.186,-17.784),(-1.060,-17.757),(-1.003,-17.791),(-1.032,-17.836),
     (-1.118,-17.868),(-1.215,-17.864)],
    [(-0.475,-17.625),(-0.407,-17.555),(-0.327,-17.514),(-0.213,-17.458),(-0.144,-17.479),
     (-0.007,-17.520),(0.055,-17.597),(-0.007,-17.652),(-0.122,-17.722),(-0.270,-17.743),
     (-0.395,-17.680)],
    [(-2.172,-17.262),(-2.152,-17.262),(-2.152,-17.280),(-2.172,-17.280)],
    [(-1.300,-17.062),(-1.278,-17.062),(-1.278,-17.076),(-1.300,-17.076)],
]
blue_loops = [
    [(-2.150,-17.694),(-2.099,-17.639),(-2.042,-17.600),(-1.951,-17.608),(-1.848,-17.590),
     (-1.688,-17.653),(-1.620,-17.691),(-1.631,-17.750),(-1.745,-17.805),(-1.848,-17.805),
     (-1.962,-17.826),(-2.065,-17.791)],
    [(-1.266,-17.569),(-1.232,-17.528),(-1.163,-17.475),(-1.026,-17.416),(-0.889,-17.382),
     (-0.775,-17.350),(-0.715,-17.326),(-0.646,-17.326),(-0.578,-17.333),(-0.544,-17.354),
     (-0.538,-17.382),(-0.561,-17.409),(-0.612,-17.444),(-0.681,-17.486),(-0.726,-17.548),
     (-0.772,-17.583),(-0.829,-17.611),(-0.867,-17.652),(-1.003,-17.694),(-1.118,-17.673),
     (-1.186,-17.666),(-1.243,-17.625)],
]
red_loops = [
    [(-1.183,-17.583),(-1.170,-17.520),(-1.100,-17.470),(-0.990,-17.430),(-0.900,-17.410),
     (-0.800,-17.380),(-0.680,-17.336),(-0.606,-17.375),(-0.658,-17.423),(-0.761,-17.444),
     (-0.795,-17.472),(-0.789,-17.521),(-0.806,-17.569),(-0.880,-17.630),(-1.003,-17.705),
     (-1.080,-17.660),(-1.163,-17.611)],
]
true_mass = -0.98
true_flux = -17.55

# ---------------- right panel: relative probability curves ----------------
black_curve = [
    (-4.0,0.0),(-3.5,0.0),(-3.23,0.001),(-3.09,0.009),(-2.99,0.024),(-2.88,0.058),(-2.78,0.112),
    (-2.71,0.166),(-2.63,0.204),(-2.56,0.221),(-2.48,0.208),(-2.39,0.173),(-2.30,0.135),
    (-2.22,0.117),(-2.14,0.131),(-2.04,0.166),(-1.93,0.204),(-1.83,0.242),(-1.74,0.288),
    (-1.67,0.334),(-1.62,0.388),(-1.56,0.441),(-1.51,0.518),(-1.46,0.594),(-1.41,0.694),
    (-1.35,0.763),(-1.32,0.824),(-1.26,0.901),(-1.21,0.962),(-1.16,0.994),(-1.14,0.999),
    (-1.12,1.0),(-1.09,0.995),(-1.07,0.985),(-1.04,0.954),(-1.0,0.909),(-0.97,0.847),
    (-0.93,0.794),(-0.90,0.733),(-0.86,0.656),(-0.83,0.564),(-0.77,0.449),(-0.72,0.342),
    (-0.67,0.258),(-0.62,0.2),(-0.58,0.181),(-0.55,0.173),(-0.50,0.185),(-0.46,0.219),
    (-0.40,0.281),(-0.35,0.357),(-0.30,0.434),(-0.25,0.51),(-0.19,0.571),(-0.14,0.606),
    (-0.10,0.612),(-0.05,0.594),(0.0,0.556),(0.05,0.487),(0.11,0.411),(0.16,0.334),(0.21,0.266),
    (0.26,0.212),(0.32,0.166),(0.39,0.12),(0.47,0.074),(0.56,0.044),(0.67,0.019),(0.77,0.007),
    (0.88,0.002),(1.0,0.0),
]
green_curve = [
    (-4.0,0.0),(-2.5,0.0),(-2.39,0.003),(-2.25,0.013),(-2.14,0.028),(-2.04,0.045),(-1.93,0.054),
    (-1.83,0.044),(-1.72,0.024),(-1.62,0.015),(-1.55,0.013),(-1.48,0.018),(-1.42,0.032),
    (-1.37,0.066),(-1.32,0.12),(-1.28,0.181),(-1.25,0.258),(-1.21,0.35),(-1.18,0.465),
    (-1.14,0.602),(-1.11,0.755),(-1.07,0.886),(-1.04,0.97),(-1.02,0.993),(-1.0,0.999),
    (-0.985,0.995),(-0.97,0.985),(-0.93,0.931),(-0.90,0.847),(-0.86,0.733),(-0.83,0.602),
    (-0.79,0.473),(-0.76,0.35),(-0.72,0.258),(-0.69,0.173),(-0.65,0.105),(-0.60,0.051),
    (-0.56,0.03),(-0.52,0.026),(-0.47,0.036),(-0.42,0.067),(-0.37,0.112),(-0.32,0.158),
    (-0.26,0.189),(-0.21,0.2),(-0.17,0.202),(-0.12,0.192),(-0.07,0.166),(-0.02,0.128),
    (0.04,0.09),(0.11,0.05),(0.18,0.028),(0.28,0.013),(0.42,0.005),(0.6,0.002),(1.0,0.0),
]
blue_curve = [
    (-4.0,0.0),(-2.4,0.0),(-2.14,0.007),(-2.04,0.013),(-1.93,0.017),(-1.83,0.013),(-1.72,0.007),
    (-1.58,0.004),(-1.44,0.005),(-1.37,0.017),(-1.32,0.04),(-1.26,0.09),(-1.23,0.158),
    (-1.19,0.258),(-1.16,0.388),(-1.12,0.549),(-1.09,0.733),(-1.05,0.886),(-1.02,0.977),
    (-1.0,0.995),(-0.98,0.999),(-0.965,0.993),(-0.95,0.977),(-0.91,0.901),(-0.88,0.778),
    (-0.84,0.625),(-0.81,0.465),(-0.77,0.327),(-0.74,0.212),(-0.70,0.12),(-0.67,0.059),
    (-0.62,0.021),(-0.56,0.007),(-0.49,0.005),(-0.39,0.011),(-0.28,0.021),(-0.14,0.026),
    (-0.04,0.019),(0.11,0.013),(0.28,0.007),(0.49,0.002),(1.0,0.0),
]
red_curve = [
    (-4.0,0.0),(-1.6,0.002),(-1.44,0.004),(-1.34,0.007),(-1.27,0.021),(-1.23,0.051),(-1.19,0.105),
    (-1.16,0.22),(-1.12,0.373),(-1.09,0.564),(-1.05,0.778),(-1.02,0.931),(-1.0,0.975),
    (-0.99,0.987),(-0.975,0.985),(-0.96,0.965),(-0.93,0.901),(-0.90,0.778),(-0.86,0.61),
    (-0.83,0.427),(-0.79,0.258),(-0.76,0.128),(-0.72,0.051),(-0.67,0.015),(-0.60,0.003),
    (-0.3,0.002),(1.0,0.0),
]


def closed(pts):
    a = np.array(pts + [pts[0]])
    return a[:, 0], a[:, 1]


fig = plt.figure(figsize=(12.5, 5), dpi=400)
ax1 = fig.add_axes([0.115, 0.1805, 0.38, 0.7795])
ax2 = fig.add_axes([0.60, 0.1805, 0.38, 0.7795])

# left: samples + contours
samples = np.array(upper_pts + cloud_top + cloud_mid + cloud_low + cloud_base
                   + cloud_fill_a + cloud_fill_b + edge_pts)
ax1.plot(samples[:, 0], samples[:, 1], '.', color='grey')

bo = np.array(black_outline)
ax1.plot(bo[:, 0], bo[:, 1], color='black', lw=1.5)
bn = np.array(black_notch)
ax1.plot(bn[:, 0], bn[:, 1], color='black', lw=1.5)
for loop in green_loops:
    ax1.plot(*closed(loop), color='lawngreen', lw=1.5)
for loop in blue_loops:
    ax1.plot(*closed(loop), color='blue', lw=1.5)
for loop in red_loops:
    ax1.plot(*closed(loop), color='red', lw=1.5)

ax1.axhline(true_flux, color='orange', lw=1.5)
ax1.axvline(true_mass, color='red', lw=1.5)
ax1.set_xlim(-4, 1)
ax1.set_ylim(-21.5, -15)
ax1.set_xticks([-4, -3, -2, -1, 0, 1])
ax1.set_yticks([-20, -18, -16])
ax1.set_xlabel(r'Log Disk gas mass [M$_\odot$]')
ax1.set_ylabel(r'Log HD 112 $\mu$m [W/m$^2$]')

# right: marginal probability
for curve, col in [(black_curve, 'black'), (green_curve, 'lawngreen'),
                   (blue_curve, 'blue'), (red_curve, 'red')]:
    c = np.array(curve)
    ax2.plot(c[:, 0], c[:, 1], color=col, lw=2)
ax2.axvline(true_mass, color='blue', ls='--', lw=2)
ax2.set_ylim(-0.1, 1.1)
ax2.set_yticks([0, 0.25, 0.5, 0.75, 1.0])
ax2.set_yticklabels(['0.00', '0.25', '0.50', '0.75', '1.00'])
ax2.set_xticks([-4, -2, 0])
ax2.set_xlabel(r'Disk gas mass [M$_\odot$]')
ax2.set_ylabel('Relative probability')

fig.savefig('out.png', dpi=400)
